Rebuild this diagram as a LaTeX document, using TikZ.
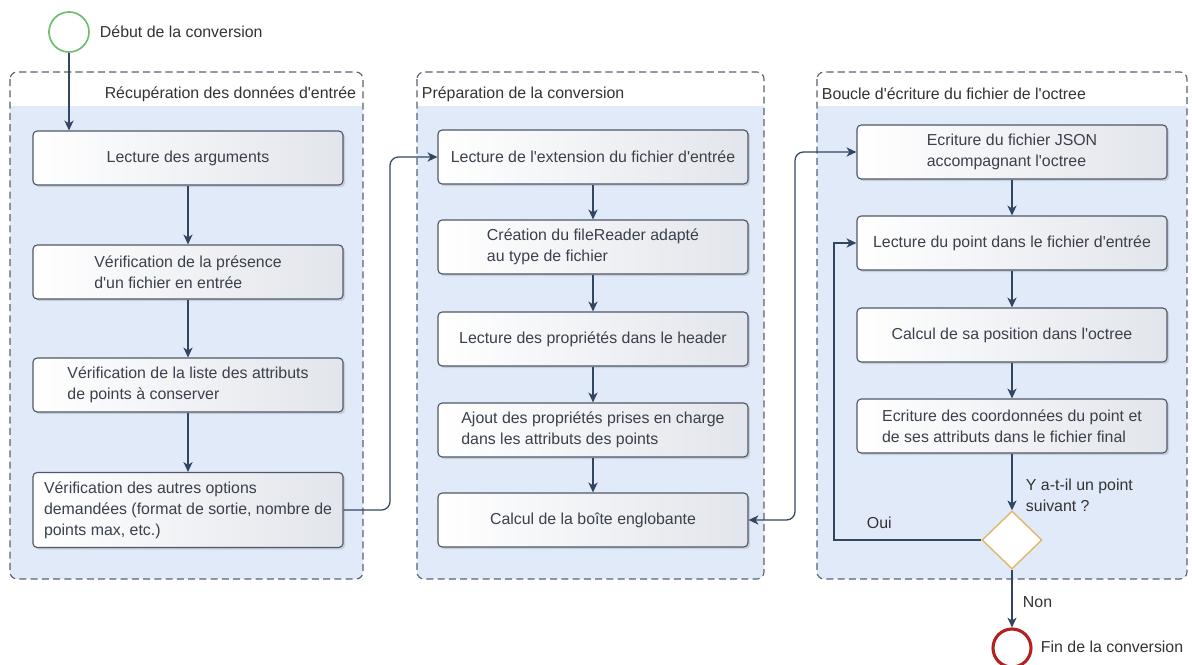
\documentclass[tikz,border=0pt]{standalone}
\usepackage{fontspec}
\setmainfont{Liberation Sans}[Ligatures=TeXOff]
\usepackage{tikz}
\usetikzlibrary{arrows.meta,shapes,positioning,calc,shadows}
\usepackage{xcolor}

\definecolor{boxline}{RGB}{78,88,104}
\definecolor{boxgray}{RGB}{226,229,235}
\definecolor{panelblue}{RGB}{225,234,248}
\definecolor{panelline}{RGB}{88,98,114}
\definecolor{flowcol}{RGB}{50,70,98}
\definecolor{textgray}{RGB}{58,64,76}
\definecolor{startgreen}{RGB}{112,190,112}
\definecolor{endred}{RGB}{178,32,32}
\definecolor{diamline}{RGB}{222,184,104}

\begin{document}
\begin{tikzpicture}[x=0.025cm, y=-0.025cm,
    every node/.style={font=\fontsize{11.3}{15}\selectfont},
    stepbox/.style={draw=boxline, line width=0.8pt, rounded corners=3pt,
        left color=white, right color=boxgray, text=textgray, align=left,
        minimum width=7.75cm, minimum height=1.35cm, inner sep=2pt,
        drop shadow={opacity=0.25, shadow xshift=1.5pt, shadow yshift=-1.5pt}},
    panel/.style={draw=panelline, dash pattern=on 5pt off 3pt, line width=0.8pt, rounded corners=5pt},
    tip/.style={Stealth[length=7pt, width=6.5pt, inset=2pt]},
    flow/.style={draw=flowcol, line width=0.9pt, -{Stealth[length=7pt, width=6.5pt, inset=2pt]}},
    lbl/.style={text=black!80, anchor=west, align=left}]
    \useasboundingbox (0,0) rectangle (1192,665);

    % cadres des trois phases
    \foreach \xa/\xb in {10/363, 417/764, 817/1187} {
        \begin{scope}
            \clip[rounded corners=5pt] (\xa,72) rectangle (\xb,579);
            \fill[panelblue] (\xa,72) rectangle (\xb,579);
            \fill[white] (\xa,72) rectangle (\xb,106);
        \end{scope}
        \draw[panel] (\xa,72) rectangle (\xb,579);
    }
    \node[lbl, anchor=east] (t1) at (361,94) {Récupération des données d'entrée};
    \node[lbl] (t2) at (417,94) {Préparation de la conversion};
    \node[lbl] (t3) at (817,94) {Boucle d'écriture du fichier de l'octree};

    % début et fin
    \node[circle, draw=startgreen, line width=1.2pt, fill=white, minimum size=1cm] (deb) at (69,32) {};
    \node[lbl] at (95,32) {Début de la conversion};
    \node[circle, draw=endred, line width=2.2pt, fill=white, minimum size=0.95cm] (fin) at (1012,648) {};
    \node[lbl] at (1036,647) {Fin de la conversion};

    % phase 1
    \node[stepbox] (a1) at (188,158) {Lecture des arguments};
    \node[stepbox] (a2) at (188,272) {Vérification de la présence\\d'un fichier en entrée};
    \node[stepbox] (a3) at (188,385) {Vérification de la liste des attributs\\de points à conserver};
    \node[stepbox, minimum height=1.875cm] (a4) at (188,510) {Vérification des autres options\\demandées (format de sortie, nombre de\\points max, etc.)};

    % phase 2
    \node[stepbox] (b1) at (593,157) {Lecture de l'extension du fichier d'entrée};
    \node[stepbox] (b2) at (593,247) {Création du fileReader adapté\\au type de fichier};
    \node[stepbox] (b3) at (593,339) {Lecture des propriétés dans le header};
    \node[stepbox] (b4) at (593,430) {Ajout des propriétés prises en charge\\dans les attributs des points};
    \node[stepbox] (b5) at (593,520) {Calcul de la boîte englobante};

    % phase 3
    \node[stepbox] (c1) at (1012,152) {Ecriture du fichier JSON\\accompagnant l'octree};
    \node[stepbox] (c2) at (1012,243) {Lecture du point dans le fichier d'entrée};
    \node[stepbox] (c3) at (1012,335) {Calcul de sa position dans l'octree};
    \node[stepbox] (c4) at (1012,426) {Ecriture des coordonnées du point et\\de ses attributs dans le fichier final};
    \node[diamond, draw=diamline, line width=1pt, fill=white, aspect=1,
          minimum width=1.5cm, minimum height=1.45cm, inner sep=0pt] (test) at (1012,540) {};

    % points de passage
    \coordinate (j1) at (390,0);
    \coordinate (j2) at (795,0);
    \coordinate (j3) at (834,0);

    % flèches
    \draw[flow] (deb) -- (deb |- a1.north);
    \draw[flow] (a1) -- (a2);
    \draw[flow] (a2) -- (a3);
    \draw[flow] (a3) -- (a4);
    \draw[flow, rounded corners=6pt] (a4.east) -- (a4.east -| j1) -- (j1 |- b1.west) -- (b1.west);
    \draw[flow] (b1) -- (b2);
    \draw[flow] (b2) -- (b3);
    \draw[flow] (b3) -- (b4);
    \draw[flow] (b4) -- (b5);
    \draw[flow, {Stealth[length=7pt, width=6.5pt, inset=2pt]}-{Stealth[length=7pt, width=6.5pt, inset=2pt]}, rounded corners=6pt]
        (b5.east) -- (b5.east -| j2) -- (j2 |- c1.west) -- (c1.west);
    \draw[flow] (c1) -- (c2);
    \draw[flow] (c2) -- (c3);
    \draw[flow] (c3) -- (c4);
    \draw[flow] (c4) -- (test);
    \node[lbl] at (1021,495) {Y a-t-il un point\\suivant ?};
    \draw[flow] (test.west) -- (test.west -| j3) -- (j3 |- c2.west) -- (c2.west);
    \node[lbl] at (862,523) {Oui};
    \draw[flow] (test) -- (fin);
    \node[lbl] at (1018,602) {Non};
\end{tikzpicture}
\end{document}
